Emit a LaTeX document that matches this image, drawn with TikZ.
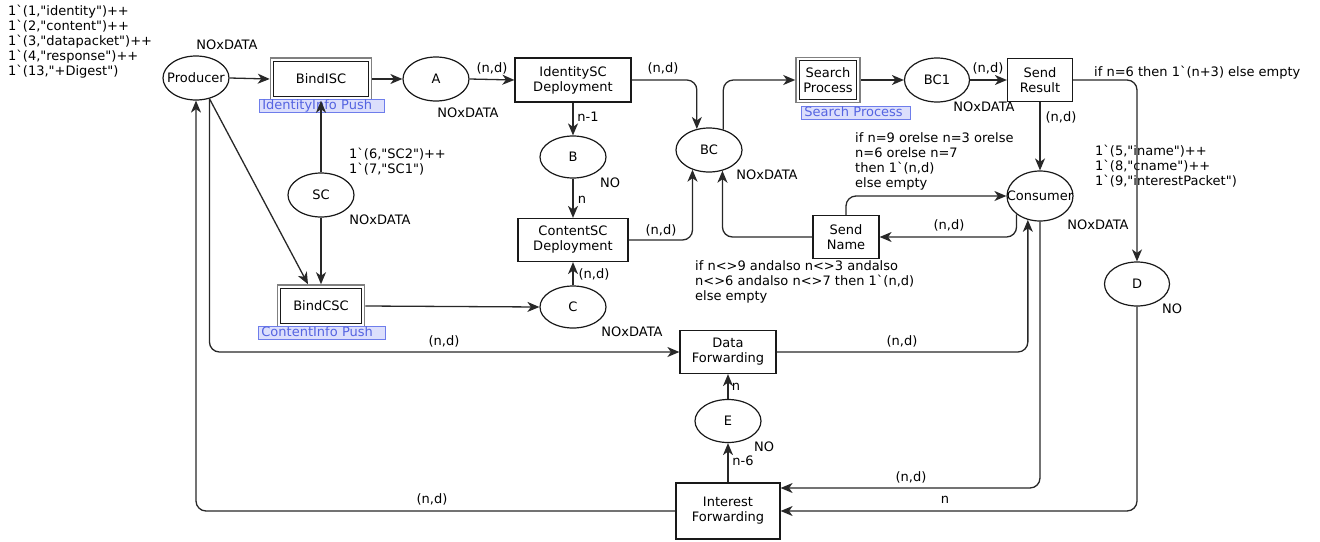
\documentclass[tikz,border=0pt]{standalone}
\usepackage{fontspec}
\newfontfamily\dv{DejaVu Sans}
\usetikzlibrary{arrows.meta,shapes.geometric}
\definecolor{lnc}{RGB}{40,40,40}
\definecolor{labfill}{RGB}{220,223,252}
\definecolor{labdraw}{RGB}{110,125,235}
\definecolor{labtext}{RGB}{85,100,225}
\newcommand\ctr[1]{\makebox[0pt]{#1}}
\begin{document}
\begin{tikzpicture}[x=1pt,y=-1pt,
  font=\dv\fontsize{13}{15}\selectfont,
  place/.style={draw=black!90, line width=1.2pt, ellipse, inner sep=0pt, minimum width=66pt, minimum height=44pt},
  trans/.style={draw=black!90, line width=1.2pt, rectangle, inner sep=0pt, align=center},
  subst/.style={draw=black!50, line width=1.5pt, rectangle, inner sep=0pt, align=center},
  innerbox/.style={draw=black!90, line width=1.2pt},
  arc/.style={draw=lnc, line width=1.3pt, -{Stealth[length=12pt,width=10pt,inset=3.5pt]}, rounded corners=10pt},
  lab/.style={inner sep=0pt},
  mlab/.style={inner sep=0pt, align=left, anchor=west},
  sublab/.style={draw=labdraw, fill=labfill, text=labtext, line width=0.8pt, anchor=north west, align=left,
    inner xsep=3pt, inner ysep=0.5pt, text height=9.5pt, text depth=2.5pt, minimum height=13pt}
]
\useasboundingbox (0,0) rectangle (1320,541);

% initial marking of Producer
\node[mlab] (mProd) at (8,42) {1`(1,"identity")++\\1`(2,"content")++\\1`(3,"datapacket")++\\1`(4,"response")++\\1`(13,"+Digest")};

% places
\node[place] (Producer) at (196,78) {\ctr{Producer}};
\node[lab] (tProd) at (227,45) {NOxDATA};
\node[place] (A) at (436,79) {\ctr{A}};
\node[lab] (tA) at (468,113) {NOxDATA};
\node[place, minimum height=42pt] (B) at (573,157) {\ctr{B}};
\node[lab] (tB) at (610,183) {NO};
\node[place, minimum height=42pt] (C) at (573,307) {\ctr{C}};
\node[lab] (tC) at (632,332) {NOxDATA};
\node[place] (SC) at (321,195) {\ctr{SC}};
\node[lab] (tSC) at (380,220) {NOxDATA};
\node[mlab] (mSC) at (349,161.5) {1`(6,"SC2")++\\1`(7,"SC1")};
\node[place] (BC) at (709,150) {\ctr{BC}};
\node[lab] (tBC) at (767,175) {NOxDATA};
\node[place, minimum width=65pt] (BC1) at (937,80) {\ctr{BC1}};
\node[lab] (tBC1) at (984,107) {NOxDATA};
\node[place, minimum height=50pt] (Consumer) at (1040,196) {\ctr{Consumer}};
\node[lab] (tCons) at (1098,225) {NOxDATA};
\node[place, minimum width=65pt] (D) at (1137,284) {\ctr{D}};
\node[lab] (tD) at (1172,309) {NO};
\node[mlab] (mD) at (1095,166) {1`(5,"iname")++\\1`(8,"cname")++\\1`(9,"interestPacket")};
\node[place, minimum height=43pt] (E) at (728,421) {\ctr{E}};
\node[lab] (tE) at (764,447) {NO};

% transitions
\node[trans, minimum width=116pt, minimum height=44pt] (IdSC) at (573,80) {IdentitySC\\Deployment};
\node[trans, minimum width=110pt, minimum height=43pt] (ContSC) at (573,240) {ContentSC\\Deployment};
\node[trans, minimum width=65pt, minimum height=43pt] (SR) at (1040,80) {Send\\Result};
\node[trans, minimum width=66pt, minimum height=43pt] (SN) at (846,237) {Send\\Name};
\node[trans, minimum width=96pt, minimum height=43pt] (DF) at (728,352) {Data\\Forwarding};
\node[trans, minimum width=104pt, minimum height=56pt] (IF) at (728,511) {Interest\\Forwarding};

% substitution transitions
\node[subst, minimum width=101pt, minimum height=42pt] (BindISC) at (321,79) {BindISC};
\draw[innerbox] ([shift={(4pt,4pt)}]BindISC.south west) rectangle ([shift={(-4pt,-4pt)}]BindISC.north east);
\node[subst, minimum width=87pt, minimum height=42pt] (BindCSC) at (321,306) {BindCSC};
\draw[innerbox] ([shift={(4pt,4pt)}]BindCSC.south west) rectangle ([shift={(-4pt,-4pt)}]BindCSC.north east);
\node[subst, minimum width=64pt, minimum height=45pt] (SP) at (828,80) {Search\\Process};
\draw[innerbox] ([shift={(4pt,4pt)}]SP.south west) rectangle ([shift={(-4pt,-4pt)}]SP.north east);

% subpage tags
\node[sublab, text width=119pt] (lbISC) at (259,99) {IdentityInfo Push};
\node[sublab, text width=121pt] (lbCSC) at (258,326) {ContentInfo Push};
\node[sublab, text width=103pt] (lbSP) at (801,106) {Search Process};

% arcs
\draw[arc] (Producer.east) -- (BindISC.west);
\draw[arc] (BindISC.east) -- (A.west);
\draw[arc] (A.east) -- (IdSC.west);
\draw[arc] (SC.north) -- (BindISC.south);
\draw[arc] (SC.south) -- (BindCSC.north);
\draw[arc] (Producer.-57) -- ([xshift=-13pt]BindCSC.north);
\draw[arc] (BindCSC.east) -- (C.west);
\draw[arc] (C.north) -- (ContSC.south);
\draw[arc] (IdSC.south) -- (B.north);
\draw[arc] (B.south) -- (ContSC.north);
\draw[arc] (IdSC.east) -| (BC.120);
\draw[arc] (ContSC.east) -| (BC.230);
\draw[arc] (BC.55) |- (SP.west);
\draw[arc] (SP.east) -- (BC1.west);
\draw[arc] (BC1.east) -- (SR.west);
\draw[arc] (SR.south) -- (Consumer.north);
\draw[arc] (SR.east) -| (D.north);
\draw[arc] (Consumer.218) |- (SN.east);
\draw[arc] (SN.north) |- (Consumer.west);
\draw[arc] (SN.west) -| (BC.-57);
\draw[arc] (DF.east) -| (Consumer.243);
\draw[arc] (Producer.-57) |- (DF.west);
\draw[arc] (E.north) -- (DF.south);
\draw[arc] (IF.north) -- (E.south);
\draw[arc] (Consumer.south) |- ([yshift=23pt]IF.east);
\draw[arc] (D.south) |- (IF.east);
\draw[arc] (IF.west) -| (Producer.south);

% arc inscriptions
\node[lab] (l1) at (492,68) {(n,d)};
\node[lab] (l2) at (588,117) {n-1};
\node[lab] (l3) at (582,200) {n};
\node[lab] (l4) at (594,274) {(n,d)};
\node[lab] (l5) at (663,68) {(n,d)};
\node[lab] (l6) at (661,230) {(n,d)};
\node[lab] (l7) at (988,68) {(n,d)};
\node[lab] (l8) at (1061,117) {(n,d)};
\node[mlab] (l9) at (1094,73) {if n=6 then 1`(n+3) else empty};
\node[mlab] (l10) at (855,161.5) {if n=9 orelse n=3 orelse\\n=6 orelse n=7\\then 1`(n,d)\\else empty};
\node[lab] (l11) at (949,225) {(n,d)};
\node[mlab] (l12) at (695,281.5) {if n<>9 andalso n<>3 andalso\\n<>6 andalso n<>7 then 1`(n,d)\\else empty};
\node[lab] (l13) at (902,341) {(n,d)};
\node[lab] (l14) at (444,341) {(n,d)};
\node[lab] (l15) at (736,387) {n};
\node[lab] (l16) at (743,461) {n-6};
\node[lab] (l17) at (911,477) {(n,d)};
\node[lab] (l18) at (945,500) {n};
\node[lab] (l19) at (432,499) {(n,d)};
\end{tikzpicture}
\end{document}
